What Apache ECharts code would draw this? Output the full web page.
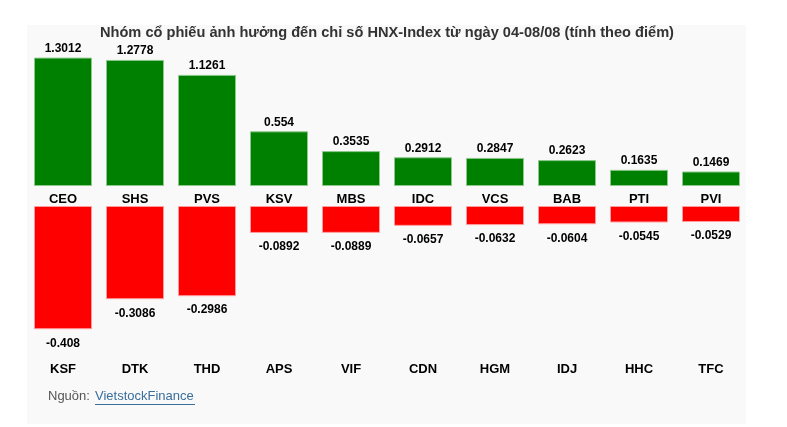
<!DOCTYPE html>
<html>
<head>
<meta charset="utf-8">
<script src="https://cdn.jsdelivr.net/npm/echarts@6/dist/echarts.min.js"></script>
<style>
  html, body { margin: 0; padding: 0; background: #fff; }
  #chart { width: 787px; height: 427px; }
</style>
</head>
<body>
<div id="chart"></div>
<script>
// nhóm tăng (xanh) và nhóm giảm (đỏ)
const upNames = ['CEO', 'SHS', 'PVS', 'KSV', 'MBS', 'IDC', 'VCS', 'BAB', 'PTI', 'PVI'];
const upValues = [1.3012, 1.2778, 1.1261, 0.554, 0.3535, 0.2912, 0.2847, 0.2623, 0.1635, 0.1469];
const downNames = ['KSF', 'DTK', 'THD', 'APS', 'VIF', 'CDN', 'HGM', 'IDJ', 'HHC', 'TFC'];
const downValues = [-0.408, -0.3086, -0.2986, -0.0892, -0.0889, -0.0657, -0.0632, -0.0604, -0.0545, -0.0529];

const font = 'Liberation Sans, Arial, sans-serif';
const chart = echarts.init(document.getElementById('chart'));

const catLabel = { color: '#000', fontWeight: 'bold', fontSize: 13, fontFamily: font, interval: 0 };
const valLabel = { show: true, color: '#000', fontWeight: 'bold', fontSize: 12, fontFamily: font };

const option = {
  animation: false,
  backgroundColor: '#fff',
  title: {
    text: 'Nhóm cổ phiếu ảnh hưởng đến chỉ số HNX-Index từ ngày 04-08/08 (tính theo điểm)',
    left: 95, top: 20,
    textStyle: { fontSize: 14.6, fontWeight: 'bold', color: '#333', fontFamily: font }
  },
  graphic: [
    { type: 'rect', z: -10, shape: { x: 27, y: 25, width: 719, height: 399 }, style: { fill: '#f9f9f9' } },
    { type: 'text', left: 48, top: 390, style: { text: 'Nguồn: ', fill: '#555', font: '13px ' + font } },
    { type: 'text', left: 95, top: 390, style: { text: 'VietstockFinance', fill: '#3a6e9c', font: '13px ' + font } },
    { type: 'line', shape: { x1: 95, y1: 404.5, x2: 195, y2: 404.5 }, style: { stroke: '#3a6e9c', lineWidth: 1 } }
  ],
  grid: [
    { left: 27, right: 40, top: 38, height: 148 },
    { left: 27, right: 40, top: 206, height: 151 }
  ],
  xAxis: [
    { type: 'category', gridIndex: 0, data: upNames, position: 'bottom',
      axisLine: { show: false }, axisTick: { show: false },
      axisLabel: Object.assign({ margin: 7 }, catLabel) },
    { type: 'category', gridIndex: 1, data: downNames, position: 'bottom',
      axisLine: { show: false, onZero: false }, axisTick: { show: false },
      axisLabel: Object.assign({ margin: 6 }, catLabel) }
  ],
  yAxis: [
    { type: 'value', gridIndex: 0, min: 0, max: 1.5, show: false, splitLine: { show: false } },
    { type: 'value', gridIndex: 1, min: -0.5, max: 0, show: false, splitLine: { show: false } }
  ],
  series: [
    {
      type: 'bar', xAxisIndex: 0, yAxisIndex: 0, data: upValues, barWidth: 58,
      itemStyle: { color: '#008000', borderColor: '#8cc88c', borderWidth: 1 },
      label: Object.assign({ position: 'top', distance: 3 }, valLabel)
    },
    {
      type: 'bar', xAxisIndex: 1, yAxisIndex: 1, data: downValues, barWidth: 58,
      itemStyle: { color: '#ff0000', borderColor: '#ff9c9c', borderWidth: 1 },
      label: Object.assign({ position: 'bottom', distance: 8 }, valLabel)
    }
  ]
};
option && chart.setOption(option);
window.onresize = () => { chart.resize(); };
</script>
</body>
</html>
